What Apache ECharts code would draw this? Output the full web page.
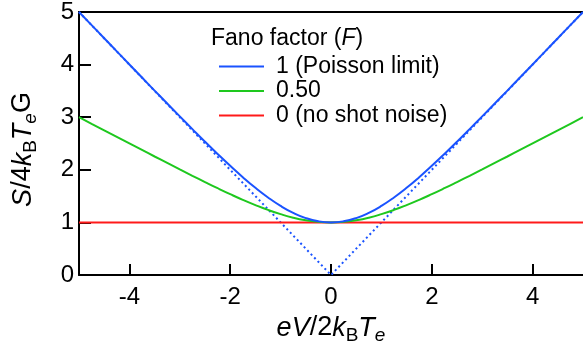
<!DOCTYPE html>
<html>
<head>
<meta charset="utf-8">
<script src="https://cdn.jsdelivr.net/npm/echarts@6/dist/echarts.min.js"></script>
<style>html,body{margin:0;padding:0;background:#fff;}#c{width:583px;height:351px;}</style>
</head>
<body>
<div id="c"></div>
<script>
// x values: eV/2k_B T_e
var xs = [-5,-4.75,-4.5,-4.25,-4,-3.75,-3.5,-3.25,-3,-2.75,-2.5,-2.25,-2,-1.75,-1.5,-1.25,-1,-0.75,-0.5,-0.25,0,0.25,0.5,0.75,1,1.25,1.5,1.75,2,2.25,2.5,2.75,3,3.25,3.5,3.75,4,4.25,4.5,4.75,5];
// F = 1 (Poisson limit)
var poisson = [5.000,4.751,4.501,4.252,4.003,3.754,3.506,3.260,3.015,2.773,2.534,2.301,2.075,1.859,1.657,1.474,1.313,1.181,1.082,1.021,1.000,1.021,1.082,1.181,1.313,1.474,1.657,1.859,2.075,2.301,2.534,2.773,3.015,3.260,3.506,3.754,4.003,4.252,4.501,4.751,5.000];
// F = 0.50
var half = [3.000,2.875,2.751,2.626,2.501,2.377,2.253,2.130,2.007,1.886,1.767,1.650,1.537,1.429,1.329,1.237,1.157,1.090,1.041,1.010,1.000,1.010,1.041,1.090,1.157,1.237,1.329,1.429,1.537,1.650,1.767,1.886,2.007,2.130,2.253,2.377,2.501,2.626,2.751,2.875,3.000];
// F = 0 (no shot noise)
var noShot = [1,1,1,1,1,1,1,1,1,1,1,1,1,1,1,1,1,1,1,1,1,1,1,1,1,1,1,1,1,1,1,1,1,1,1,1,1,1,1,1,1];
// asymptote |x|
var asymX = [-5, 0, 5];
var asymY = [5, 0, 5];
var xTicks = [-4, -2, 0, 2, 4];
var seriesNames = ['1 (Poisson limit)', '0.50', '0 (no shot noise)'];

function pairs(a, b) { return a.map(function (v, i) { return [v, b[i]]; }); }

var FONT = '"Liberation Sans", Arial, sans-serif';
var NS = 27, SS = 19;
var richName = {
  i: { fontStyle: 'italic', fontSize: NS, fontFamily: FONT, color: '#000', lineHeight: 34, verticalAlign: 'middle' },
  n: { fontSize: NS, fontFamily: FONT, color: '#000', lineHeight: 34, verticalAlign: 'middle' },
  s: { fontSize: SS, fontFamily: FONT, color: '#000', lineHeight: 20, verticalAlign: 'bottom' },
  si: { fontSize: SS, fontStyle: 'italic', fontFamily: FONT, color: '#000', lineHeight: 20, verticalAlign: 'bottom' }
};
var chart = echarts.init(document.getElementById('c'));
chart.setOption({
  animation: false,
  backgroundColor: '#fff',
  grid: { left: 79, right: -1, top: 9, bottom: 76, containLabel: false },
  xAxis: [{
    type: 'value', min: -5, max: 5,
    axisLine: { onZero: false, lineStyle: { color: '#000', width: 2 } },
    axisTick: { inside: true, length: 11, lineStyle: { color: '#000', width: 2 }, customValues: xTicks },
    axisLabel: { customValues: xTicks, color: '#000', fontSize: 24, fontFamily: FONT, margin: 10 },
    splitLine: { show: false },
    name: '{i|eV}{n|/2}{i|k}{s|B}{i|T}{si|e}',
    nameLocation: 'middle', nameGap: 36,
    nameTextStyle: { color: '#000', fontSize: NS, fontFamily: FONT, rich: richName }
  }, {
    type: 'value', min: -5, max: 5, position: 'top',
    axisLine: { show: true, onZero: false, lineStyle: { color: '#000', width: 2 } },
    axisTick: { show: false }, axisLabel: { show: false }, splitLine: { show: false }
  }],
  yAxis: {
    type: 'value', min: 0, max: 5, interval: 1,
    axisLine: { show: true, onZero: false, lineStyle: { color: '#000', width: 2 } },
    axisTick: { show: true, inside: true, length: 12, lineStyle: { color: '#000', width: 2 } },
    axisLabel: { color: '#000', fontSize: 24, fontFamily: FONT, margin: 5 },
    splitLine: { show: false },
    name: '{i|S}{n|/4}{i|k}{s|B}{i|T}{si|e}{n|G}',
    nameLocation: 'middle', nameGap: 39,
    nameTextStyle: { color: '#000', fontSize: NS, fontFamily: FONT, rich: richName, padding: [0, 12, 0, 0] }
  },
  legend: {
    data: seriesNames,
    orient: 'vertical', left: 214, top: 50,
    itemWidth: 45, itemHeight: 14, itemGap: 1.5,
    icon: 'path://M0,6 L45,6 L45,8 L0,8 Z',
    textStyle: { color: '#000', fontSize: 23, fontFamily: FONT, padding: [0,0,0,7] }
  },
  graphic: [{
    type: 'text', left: 211, top: 27,
    style: {
      text: '{n|Fano factor (}{i|F}{n|)}',
      rich: {
        n: { fontSize: 23, fontFamily: FONT, fill: '#000' },
        i: { fontSize: 23, fontFamily: FONT, fontStyle: 'italic', fill: '#000' }
      }
    }
  }],
  series: [
    { name: seriesNames[0], type: 'line', data: pairs(xs, poisson), showSymbol: false, symbol: 'none', smooth: true,
      lineStyle: { color: '#1a53ff', width: 2 }, itemStyle: { color: '#1a53ff' }, z: 4 },
    { name: seriesNames[1], type: 'line', data: pairs(xs, half), showSymbol: false, symbol: 'none', smooth: true,
      lineStyle: { color: '#1ec81e', width: 2 }, itemStyle: { color: '#1ec81e' }, z: 3 },
    { name: seriesNames[2], type: 'line', data: pairs(xs, noShot), showSymbol: false, symbol: 'none',
      lineStyle: { color: '#ff1a1a', width: 2 }, itemStyle: { color: '#ff1a1a' }, z: 2 },
    { name: 'asymptote', type: 'line', data: pairs(asymX, asymY), showSymbol: false, symbol: 'none',
      lineStyle: { color: '#1a53ff', width: 2, type: [2, 3] }, z: 1 }
  ]
});
</script>
</body>
</html>
